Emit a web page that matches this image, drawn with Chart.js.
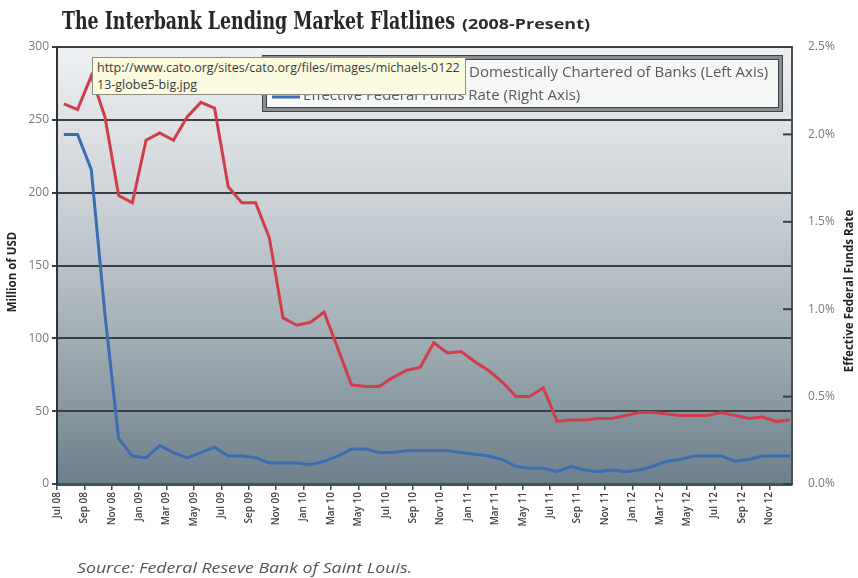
<!DOCTYPE html>
<html>
<head>
<meta charset="utf-8">
<script src="https://cdn.jsdelivr.net/npm/chart.js@4.4.0/dist/chart.umd.min.js"></script>
<style>
  html, body { margin: 0; padding: 0; background: #ffffff; }
  #wrap { position: relative; width: 858px; height: 578px; }
  #tip {
    position: absolute; left: 92px; top: 57px; width: 368px; height: 35px;
    background: #fbfbe0; border: 1px solid #8c8c84;
    font: 12.5px 'Open Sans', sans-serif; color: #3a3a3a; line-height: 17px;
    padding: 1px 0 0 4px; white-space: nowrap; overflow: hidden;
  }
</style>
</head>
<body>
<div id="wrap">
  <canvas id="c" width="858" height="578" style="width:858px;height:578px"></canvas>
  <div id="tip">http://www.cato.org/sites/cato.org/files/images/michaels-0122<br>13-globe5-big.jpg</div>
</div>
<script>
// Monthly observations, Jul 2008 - Dec 2012
const months = [
  'Jul 08','Aug 08','Sep 08','Oct 08','Nov 08','Dec 08',
  'Jan 09','Feb 09','Mar 09','Apr 09','May 09','Jun 09','Jul 09','Aug 09','Sep 09','Oct 09','Nov 09','Dec 09',
  'Jan 10','Feb 10','Mar 10','Apr 10','May 10','Jun 10','Jul 10','Aug 10','Sep 10','Oct 10','Nov 10','Dec 10',
  'Jan 11','Feb 11','Mar 11','Apr 11','May 11','Jun 11','Jul 11','Aug 11','Sep 11','Oct 11','Nov 11','Dec 11',
  'Jan 12','Feb 12','Mar 12','Apr 12','May 12','Jun 12','Jul 12','Aug 12','Sep 12','Oct 12','Nov 12','Dec 12'
];

// Labelled months on the bottom axis
const tickMonths = [
  'Jul 08','Sep 08','Nov 08','Jan 09','Mar 09','May 09','Jul 09','Sep 09','Nov 09',
  'Jan 10','Mar 10','May 10','Jul 10','Sep 10','Nov 10','Jan 11','Mar 11','May 11',
  'Jul 11','Sep 11','Nov 11','Jan 12','Mar 12','May 12','Jul 12','Sep 12','Nov 12'
];

// Interbank loans (left axis, million USD)
const loans = [
  261, 257, 280, 252, 198, 193,
  236, 241, 236, 252, 262, 258, 204, 193, 193, 169, 114, 109,
  111, 118, 93, 68, 67, 67, 73, 78, 80, 97, 90, 91,
  84, 78, 70, 60, 60, 66, 43, 44, 44, 45, 45, 47,
  49, 49, 48, 47, 47, 47, 49, 47, 45, 46, 43, 44
];

// Effective federal funds rate (right axis, percent)
const fedFunds = [
  2.00, 2.00, 1.80, 0.97, 0.26, 0.16,
  0.15, 0.22, 0.18, 0.15, 0.18, 0.21, 0.16, 0.16, 0.15, 0.12, 0.12, 0.12,
  0.11, 0.13, 0.16, 0.20, 0.20, 0.18, 0.18, 0.19, 0.19, 0.19, 0.19, 0.18,
  0.17, 0.16, 0.14, 0.10, 0.09, 0.09, 0.07, 0.10, 0.08, 0.07, 0.08, 0.07,
  0.08, 0.10, 0.13, 0.14, 0.16, 0.16, 0.16, 0.13, 0.14, 0.16, 0.16, 0.16
];

const loanAxis = { min: 0, max: 300, step: 50 };
const rateAxis = { min: 0, max: 2.5, step: 0.5 };

const seriesNames = [
  'Interbank Loans: Domestically Chartered of Banks (Left Axis)',
  'Effective Federal Funds Rate (Right Axis)'
];
const seriesColors = ['#d03e4c', '#3c6cb2'];

const titleMain = 'The Interbank Lending Market Flatlines';
const titleSub = '(2008-Present)';
const leftTitle = 'Million of USD';
const rightTitle = 'Effective Federal Funds Rate';
const sourceNote = 'Source: Federal Reseve Bank of Saint Louis.';

// Draws text squeezed/stretched horizontally to a given width
function fitText(ctx, text, x, y, font, width, color, align) {
  ctx.save();
  ctx.font = font;
  ctx.fillStyle = color;
  ctx.textBaseline = 'alphabetic';
  const w = ctx.measureText(text).width;
  const s = width / w;
  ctx.translate(x, y);
  ctx.scale(s, 1);
  ctx.textAlign = align || 'left';
  ctx.fillText(text, 0, 0);
  ctx.restore();
}

const decorations = {
  id: 'decorations',
  beforeDraw(chart) {
    const { ctx, chartArea: a } = chart;
    ctx.save();
    ctx.fillStyle = '#ffffff';
    ctx.fillRect(0, 0, chart.width, chart.height);
    const g = ctx.createLinearGradient(0, a.top, 0, a.bottom);
    g.addColorStop(0, '#eef0f2');
    g.addColorStop(0.3, '#d3d8dc');
    g.addColorStop(0.65, '#a4b0b7');
    g.addColorStop(1, '#6c7f8b');
    ctx.fillStyle = g;
    ctx.fillRect(a.left, a.top, a.right - a.left, a.bottom - a.top);
    ctx.restore();
  },
  afterDraw(chart) {
    const { ctx, chartArea: a } = chart;
    const yR = chart.scales.yRate;

    // short inward tick marks on the right axis
    ctx.save();
    ctx.strokeStyle = '#3a3f44';
    ctx.lineWidth = 2;
    yR.ticks.forEach(t => {
      const py = yR.getPixelForValue(t.value);
      ctx.beginPath();
      ctx.moveTo(a.right - 9, py);
      ctx.lineTo(a.right, py);
      ctx.stroke();
    });
    ctx.restore();

    // title
    fitText(ctx, titleMain, 62, 29, 'bold 25px "DejaVu Serif"', 393, '#262626');
    fitText(ctx, titleSub, 462, 29, 'bold 14px "Open Sans"', 128, '#2e2e2e');

    // axis titles
    ctx.save();
    ctx.translate(13, 272);
    ctx.rotate(-Math.PI / 2);
    ctx.font = 'bold 11.5px "Open Sans"';
    ctx.fillStyle = '#222222';
    ctx.textAlign = 'center';
    ctx.textBaseline = 'middle';
    ctx.fillText(leftTitle, 0, 0);
    ctx.restore();

    ctx.save();
    ctx.translate(850, 291);
    ctx.rotate(-Math.PI / 2);
    ctx.font = 'bold 11.5px "Open Sans"';
    ctx.fillStyle = '#222222';
    ctx.textAlign = 'center';
    ctx.textBaseline = 'middle';
    ctx.fillText(rightTitle, 0, 0);
    ctx.restore();

    // source note
    fitText(ctx, sourceNote, 77, 573, 'italic 14px "Open Sans"', 335, '#555555');

    // legend box
    const lx = 262, ly = 55, lw = 521, lh = 57;
    ctx.save();
    ctx.fillStyle = '#f6f7f7';
    ctx.fillRect(lx, ly, lw, lh);
    ctx.strokeStyle = '#8a8e92';
    ctx.lineWidth = 4;
    ctx.strokeRect(lx + 2, ly + 2, lw - 4, lh - 4);
    ctx.strokeStyle = '#3e4246';
    ctx.lineWidth = 1;
    ctx.strokeRect(lx + 0.5, ly + 0.5, lw - 1, lh - 1);
    ctx.strokeRect(lx + 4.5, ly + 4.5, lw - 9, lh - 9);

    const textX = 303;
    const rows = [73, 96];
    ctx.font = '15px "Open Sans"';
    const split = 469;
    rows.forEach((ry, k) => {
      ctx.strokeStyle = seriesColors[k];
      ctx.lineWidth = 3;
      ctx.beginPath();
      ctx.moveTo(272, ry + 1);
      ctx.lineTo(300, ry + 1);
      ctx.stroke();
    });
    ctx.fillStyle = '#5a5a5a';
    ctx.textBaseline = 'middle';
    ctx.textAlign = 'left';
    const head = seriesNames[0].split('Domestically')[0];
    ctx.fillText(seriesNames[0], split - ctx.measureText(head).width, rows[0]);
    ctx.fillText(seriesNames[1], textX, rows[1]);
    ctx.restore();
  }
};

const firstIdx = months.indexOf(tickMonths[0]);

new Chart(document.getElementById('c'), {
  type: 'line',
  data: {
    datasets: [
      {
        label: seriesNames[0],
        data: loans.map((v, i) => ({ x: i, y: v })),
        yAxisID: 'yLoans',
        borderColor: seriesColors[0],
        borderWidth: 3,
        pointRadius: 0,
        tension: 0,
        fill: false
      },
      {
        label: seriesNames[1],
        data: fedFunds.map((v, i) => ({ x: i, y: v })),
        yAxisID: 'yRate',
        borderColor: seriesColors[1],
        borderWidth: 3,
        pointRadius: 0,
        tension: 0,
        fill: false
      }
    ]
  },
  options: {
    responsive: false,
    animation: false,
    events: [],
    layout: { padding: { top: 47, left: 0, right: 0, bottom: 0 } },
    plugins: { legend: { display: false }, title: { display: false }, tooltip: { enabled: false } },
    scales: {
      x: {
        type: 'linear',
        min: firstIdx - 0.5,
        max: months.length - 0.85,
        afterBuildTicks: axis => {
          axis.ticks = tickMonths.map(m => ({ value: months.indexOf(m) - 0.5 }));
        },
        afterFit: axis => { axis.height = 94; },
        grid: { drawOnChartArea: false, drawTicks: true, tickLength: 6, color: '#3f4a52', lineWidth: 1.5 },
        border: { display: true, color: '#46525b', width: 3 },
        ticks: {
          autoSkip: false, minRotation: 90, maxRotation: 90, padding: 2,
          color: '#3f3f3f', font: { family: 'Open Sans', size: 10, weight: '600' },
          callback: (v, i) => tickMonths[i]
        }
      },
      yLoans: {
        position: 'left',
        min: loanAxis.min, max: loanAxis.max,
        afterFit: axis => { axis.width = 57; },
        ticks: { stepSize: loanAxis.step, padding: 3, color: '#7a7a7a', font: { family: 'Open Sans', size: 12 } },
        grid: { color: '#3a3f45', lineWidth: 2, tickLength: 5, drawTicks: true },
        border: { display: true, color: '#2f3438', width: 2 }
      },
      yRate: {
        position: 'right',
        min: rateAxis.min, max: rateAxis.max,
        afterFit: axis => { axis.width = 66; },
        ticks: { stepSize: rateAxis.step, padding: 8, color: '#7a7a7a', font: { family: 'Open Sans', size: 12 },
          callback: v => v.toFixed(1) + '%' },
        grid: { display: false },
        border: { display: true, color: '#4a5055', width: 2 }
      }
    }
  },
  plugins: [decorations]
});
</script>
</body>
</html>
